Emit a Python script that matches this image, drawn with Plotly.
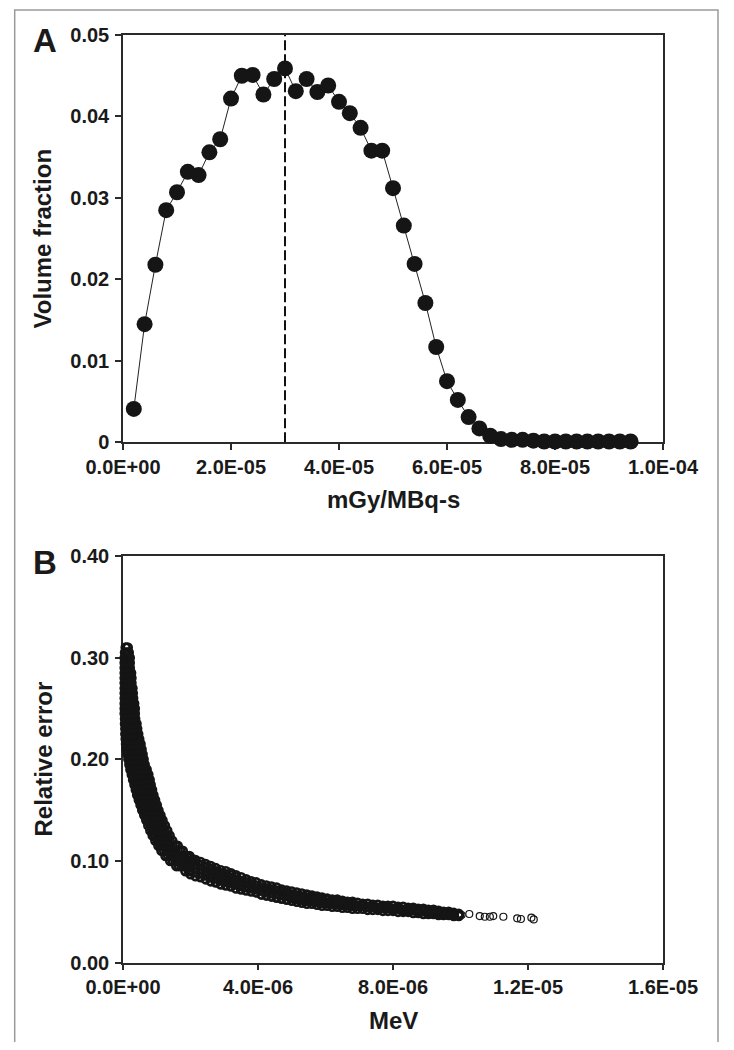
import plotly.graph_objects as go

# ---------------- Panel A data ----------------
dose_bins_e6 = [2, 4, 6, 8, 10, 12, 14, 16, 18, 20, 22, 24, 26, 28, 30, 32, 34, 36, 38, 40,
                42, 44, 46, 48, 50, 52, 54, 56, 58, 60, 62, 64, 66, 68, 70, 72, 74, 76, 78, 80,
                82, 84, 86, 88, 90, 92, 94]
volume_fraction = [0.0041, 0.0145, 0.0218, 0.0285, 0.0307, 0.0332, 0.0328, 0.0356, 0.0372, 0.0422,
                   0.0450, 0.0451, 0.0427, 0.0446, 0.0459, 0.0431, 0.0446, 0.0430, 0.0438, 0.0418,
                   0.0404, 0.0386, 0.0358, 0.0358, 0.0312, 0.0266, 0.0219, 0.0171, 0.0117, 0.0075,
                   0.0052, 0.0031, 0.0017, 0.0008, 0.0004, 0.0003, 0.0003, 0.0002, 0.0001, 0.0001,
                   0.0001, 0.0001, 0.0001, 0.0001, 0.0001, 0.0001, 0.0001]
mean_dose = 3.0e-5

a_xticks = [0, 2e-5, 4e-5, 6e-5, 8e-5, 1e-4]
a_xticktext = ["0.0E+00", "2.0E-05", "4.0E-05", "6.0E-05", "8.0E-05", "1.0E-04"]
a_yticks = [0, 0.01, 0.02, 0.03, 0.04, 0.05]
a_yticktext = ["0", "0.01", "0.02", "0.03", "0.04", "0.05"]

# ---------------- Panel B data ----------------
# steep part: relative error (x1e-3) -> energies (x1e-6 MeV) read along each row
steep_rows = {
    310: [0.08, 0.14],
    305: [0.06, 0.12, 0.17],
    300: [0.05, 0.10, 0.16, 0.20],
    295: [0.05, 0.10, 0.15, 0.20],
    290: [0.05, 0.10, 0.15, 0.20],
    285: [0.05, 0.10, 0.15, 0.20, 0.24],
    280: [0.05, 0.10, 0.15, 0.20, 0.25],
    275: [0.05, 0.10, 0.15, 0.20, 0.25],
    270: [0.05, 0.10, 0.15, 0.20, 0.25, 0.28],
    265: [0.05, 0.10, 0.15, 0.20, 0.25, 0.29],
    260: [0.05, 0.10, 0.15, 0.20, 0.25, 0.30],
    255: [0.05, 0.10, 0.15, 0.20, 0.25, 0.30, 0.33],
    250: [0.05, 0.10, 0.15, 0.20, 0.25, 0.30, 0.35],
    245: [0.05, 0.10, 0.15, 0.20, 0.25, 0.30, 0.35],
    240: [0.06, 0.11, 0.16, 0.21, 0.26, 0.31, 0.36],
    235: [0.06, 0.11, 0.16, 0.21, 0.26, 0.31, 0.36, 0.40],
    230: [0.07, 0.12, 0.17, 0.22, 0.27, 0.32, 0.37, 0.42],
    225: [0.07, 0.12, 0.17, 0.22, 0.27, 0.32, 0.37, 0.42, 0.45],
    220: [0.08, 0.13, 0.18, 0.23, 0.28, 0.33, 0.38, 0.43, 0.48],
    215: [0.09, 0.14, 0.19, 0.24, 0.29, 0.34, 0.39, 0.44, 0.49, 0.52],
    210: [0.10, 0.15, 0.20, 0.25, 0.30, 0.35, 0.40, 0.45, 0.50, 0.55],
    205: [0.13, 0.18, 0.23, 0.28, 0.33, 0.38, 0.43, 0.48, 0.53, 0.58],
    200: [0.16, 0.21, 0.26, 0.31, 0.36, 0.41, 0.46, 0.51, 0.56, 0.61],
    195: [0.19, 0.24, 0.29, 0.34, 0.39, 0.44, 0.49, 0.54, 0.59, 0.64],
    190: [0.22, 0.27, 0.32, 0.37, 0.42, 0.47, 0.52, 0.57, 0.62, 0.67, 0.70],
    185: [0.26, 0.31, 0.36, 0.41, 0.46, 0.51, 0.56, 0.61, 0.66, 0.71, 0.75],
    180: [0.30, 0.35, 0.40, 0.45, 0.50, 0.55, 0.60, 0.65, 0.70, 0.75, 0.79],
    175: [0.34, 0.40, 0.46, 0.52, 0.58, 0.64, 0.70, 0.76, 0.82],
    170: [0.38, 0.44, 0.50, 0.56, 0.62, 0.68, 0.74, 0.80, 0.86],
    165: [0.42, 0.48, 0.54, 0.60, 0.66, 0.72, 0.78, 0.84, 0.90],
    160: [0.47, 0.53, 0.59, 0.65, 0.71, 0.77, 0.83, 0.89, 0.95],
    155: [0.52, 0.58, 0.64, 0.70, 0.76, 0.82, 0.88, 0.94, 1.00],
    150: [0.57, 0.63, 0.69, 0.75, 0.81, 0.87, 0.93, 0.99, 1.05],
    145: [0.63, 0.69, 0.75, 0.81, 0.87, 0.93, 0.99, 1.05, 1.11],
    140: [0.69, 0.75, 0.81, 0.87, 0.93, 0.99, 1.05, 1.11, 1.17],
    135: [0.75, 0.82, 0.89, 0.96, 1.03, 1.10, 1.17, 1.24],
    130: [0.81, 0.88, 0.95, 1.02, 1.09, 1.16, 1.23, 1.31],
    125: [0.88, 0.95, 1.02, 1.09, 1.16, 1.23, 1.30, 1.38],
    120: [0.96, 1.03, 1.10, 1.17, 1.24, 1.31, 1.38, 1.46],
    115: [1.05, 1.12, 1.19, 1.26, 1.33, 1.40, 1.47, 1.55, 1.62],
    110: [1.14, 1.22, 1.30, 1.38, 1.46, 1.54, 1.62, 1.70, 1.77],
    105: [1.26, 1.34, 1.42, 1.50, 1.58, 1.66, 1.74, 1.82, 1.90, 1.97],
    100: [1.40, 1.48, 1.56, 1.64, 1.72, 1.80, 1.88, 1.96, 2.04, 2.12],
    95: [1.58, 1.66, 1.74, 1.82, 1.90, 1.98],
    90: [1.85, 1.95],
}
# flat part: energy (x1e-6 MeV) -> relative errors (x1e-3) read down each column
flat_cols = {
    2.00: [87, 91, 95, 99, 103], 2.15: [85, 89, 93, 97, 101], 2.30: [84, 88, 92, 96, 99],
    2.45: [82, 86, 90, 94, 97], 2.60: [80, 84, 88, 92, 95], 2.75: [79, 83, 87, 90, 93],
    2.90: [77, 81, 85, 88, 91], 3.05: [76, 80, 84, 87, 90], 3.20: [75, 79, 83, 86, 88],
    3.35: [73, 77, 81, 84, 86], 3.50: [72, 76, 80, 84], 3.65: [71, 75, 79, 82],
    3.80: [70, 74, 77, 80], 3.95: [69, 73, 76, 79], 4.10: [67, 71, 74, 77],
    4.25: [66, 70, 73, 76], 4.40: [65, 69, 72, 75], 4.55: [64, 68, 71, 74],
    4.70: [63, 67, 70, 72], 4.85: [62, 66, 69, 71], 5.00: [61, 64, 67, 70],
    5.15: [60, 63, 66, 69], 5.30: [59, 62, 65, 68], 5.45: [58, 61, 64, 67],
    5.60: [58, 61, 64, 66], 5.75: [57, 60, 63, 65], 5.90: [56, 59, 62, 64],
    6.05: [56, 59, 62, 63], 6.20: [55, 58, 60, 62], 6.35: [55, 58, 60, 62],
    6.50: [54, 57, 59, 61], 6.65: [54, 57, 59, 60], 6.80: [53, 56, 58, 60],
    6.95: [53, 56, 59], 7.10: [53, 56, 58], 7.25: [52, 55, 58], 7.40: [52, 55, 57],
    7.55: [52, 54, 57], 7.70: [51, 54, 56], 7.85: [51, 54, 56], 8.00: [51, 53, 56],
    8.15: [50, 53, 55], 8.30: [50, 52, 55], 8.45: [50, 52, 54], 8.60: [49, 52, 54],
    8.75: [49, 51, 53], 8.90: [48, 51, 53], 9.05: [48, 50, 52], 9.20: [48, 50, 52],
    9.35: [47, 49, 51], 9.50: [47, 49, 50], 9.65: [47, 48, 50], 9.80: [46, 48, 49],
    9.95: [46, 48],
}
# isolated points at the high-energy end
tail_energy_e6 = [10.03, 10.26, 10.57, 10.72, 10.87, 10.97, 11.27, 11.68, 11.79, 12.10, 12.17]
tail_error_e3 = [46.9, 47.9, 45.9, 45.2, 45.2, 45.9, 45.2, 43.6, 43.0, 44.3, 42.6]

b_xticks = [0, 4e-6, 8e-6, 1.2e-5, 1.6e-5]
b_xticktext = ["0.0E+00", "4.0E-06", "8.0E-06", "1.2E-05", "1.6E-05"]
b_yticks = [0, 0.1, 0.2, 0.3, 0.4]
b_yticktext = ["0.00", "0.10", "0.20", "0.30", "0.40"]

# ---------------- assemble ----------------
PAGE_MARGIN = 8            # default browser body margin around the plot div
W, H = 734 - 2 * PAGE_MARGIN, 1050 - 2 * PAGE_MARGIN
FONT = "Liberation Sans, Arial, sans-serif"
INK = "#151515"


def px(x):
    return (x - PAGE_MARGIN) / W


def py(y):
    return 1 - (y - PAGE_MARGIN) / H


ax_x = [d * 1e-6 for d in dose_bins_e6]

band_x, band_y = [], []
for err, energies in steep_rows.items():
    for e in energies:
        band_x.append(e * 1e-6)
        band_y.append(err * 1e-3)
for e, errs in flat_cols.items():
    for err in errs:
        band_x.append(e * 1e-6)
        band_y.append(err * 1e-3)
tail_x = [e * 1e-6 for e in tail_energy_e6]
tail_y = [v * 1e-3 for v in tail_error_e3]

fig = go.Figure()

fig.add_trace(go.Scatter(
    x=[mean_dose, mean_dose], y=[a_yticks[0], a_yticks[-1]],
    mode="lines", line=dict(color="#111", width=2, dash="10px,4px"),
    xaxis="x", yaxis="y", showlegend=False, hoverinfo="skip"))
fig.add_trace(go.Scatter(
    x=ax_x, y=volume_fraction, mode="lines+markers",
    line=dict(color="#222", width=1),
    marker=dict(symbol="circle", size=16, color=INK, line=dict(width=0)),
    xaxis="x", yaxis="y", showlegend=False, cliponaxis=False))

fig.add_trace(go.Scatter(
    x=band_x, y=band_y, mode="markers",
    marker=dict(symbol="circle-open", size=8, color=INK, line=dict(width=2.6, color=INK)),
    xaxis="x2", yaxis="y2", showlegend=False, cliponaxis=False))
fig.add_trace(go.Scatter(
    x=tail_x, y=tail_y, mode="markers",
    marker=dict(symbol="circle-open", size=7, color=INK, line=dict(width=1.2, color=INK)),
    xaxis="x2", yaxis="y2", showlegend=False, cliponaxis=False))

x_dom = [px(123), px(663)]
a_dom = [py(442.3), py(35)]
b_dom = [py(962.7), py(556)]

tick_font = dict(family=FONT, size=20, color="#1a1a1a", weight="bold")
common = dict(showline=True, linecolor="#2a2a2a", linewidth=1.5, mirror=True,
              ticks="outside", ticklen=6, tickwidth=1.5, tickcolor="#2a2a2a",
              showgrid=False, zeroline=False, tickfont=tick_font, layer="below traces",
              automargin=False)

fig.update_layout(
    template="none",
    width=W, height=H, autosize=False,
    margin=dict(l=0, r=0, t=0, b=0, pad=0),
    paper_bgcolor="white", plot_bgcolor="white",
    xaxis=dict(domain=x_dom, anchor="y", range=[0, 1e-4], tickvals=a_xticks,
               ticktext=a_xticktext, ticklabelstandoff=0, **common),
    yaxis=dict(domain=a_dom, anchor="x", range=[0, 0.05], tickvals=a_yticks,
               ticktext=a_yticktext, ticklabelstandoff=2, **common),
    xaxis2=dict(domain=x_dom, anchor="y2", range=[0, 1.6e-5], tickvals=b_xticks,
                ticktext=b_xticktext, ticklabelstandoff=0, **common),
    yaxis2=dict(domain=b_dom, anchor="x2", range=[0, 0.4], tickvals=b_yticks,
                ticktext=b_yticktext, ticklabelstandoff=2, **common),
    shapes=[dict(type="rect", xref="paper", yref="paper",
                 x0=px(14.7), x1=px(718), y0=py(1044), y1=py(10),
                 line=dict(color="#9a9a9a", width=1.5))],
)

title_font = dict(family=FONT, size=24, color="#1a1a1a", weight="bold")
letter_font = dict(family=FONT, size=33, color="#1a1a1a", weight="bold")
ann = [
    dict(text="A", x=px(44.5), y=py(41), font=letter_font),
    dict(text="B", x=px(44.5), y=py(562), font=letter_font),
    dict(text="Volume fraction", x=px(42.5), y=py(239), textangle=-90, font=title_font),
    dict(text="mGy/MBq-s", x=px(393), y=py(500), font=title_font),
    dict(text="Relative error", x=px(42.5), y=py(759), textangle=-90, font=title_font),
    dict(text="MeV", x=px(393), y=py(1020), font=title_font),
]
for a in ann:
    a.update(xref="paper", yref="paper", showarrow=False, xanchor="center", yanchor="middle")
fig.update_layout(annotations=ann)

fig.write_html("out.html")
